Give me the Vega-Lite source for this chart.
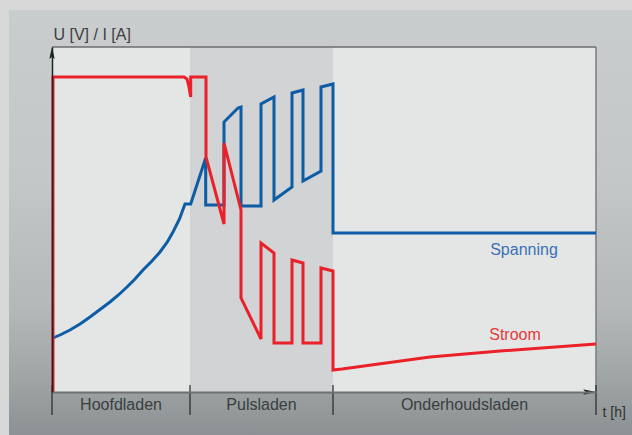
{
  "$schema": "https://vega.github.io/schema/vega-lite/v6.json",
  "width": 544,
  "height": 345,
  "autosize": {"type": "none"},
  "padding": {"left": 52, "top": 47, "right": 36, "bottom": 43},
  "background": "#d8d8d8",
  "config": {"view": {"stroke": null}, "font": "Liberation Sans"},
  "resolve": {"scale": {"color": "independent"}},
  "datasets": {
    "fasen": [
      {"fase": "Hoofdladen", "start": 0, "eind": 138},
      {"fase": "Pulsladen", "start": 138, "eind": 281},
      {"fase": "Onderhoudsladen", "start": 281, "eind": 544}
    ],
    "grenzen": [{"t": 0}, {"t": 138}, {"t": 281}, {"t": 544}],
    "curves": [
      {"serie": "Spanning", "i": 1, "t": 1, "v": 54},
      {"serie": "Spanning", "i": 2, "t": 9, "v": 57.5},
      {"serie": "Spanning", "i": 3, "t": 18, "v": 62},
      {"serie": "Spanning", "i": 4, "t": 28, "v": 68},
      {"serie": "Spanning", "i": 5, "t": 38, "v": 75},
      {"serie": "Spanning", "i": 6, "t": 48, "v": 82.5},
      {"serie": "Spanning", "i": 7, "t": 58, "v": 90},
      {"serie": "Spanning", "i": 8, "t": 67, "v": 97.5},
      {"serie": "Spanning", "i": 9, "t": 75, "v": 105},
      {"serie": "Spanning", "i": 10, "t": 83, "v": 113},
      {"serie": "Spanning", "i": 11, "t": 91, "v": 122},
      {"serie": "Spanning", "i": 12, "t": 100, "v": 131},
      {"serie": "Spanning", "i": 13, "t": 108, "v": 140},
      {"serie": "Spanning", "i": 14, "t": 115, "v": 149.5},
      {"serie": "Spanning", "i": 15, "t": 121, "v": 160},
      {"serie": "Spanning", "i": 16, "t": 127.5, "v": 173},
      {"serie": "Spanning", "i": 17, "t": 133, "v": 188},
      {"serie": "Spanning", "i": 18, "t": 138.7, "v": 188},
      {"serie": "Spanning", "i": 19, "t": 153.7, "v": 234},
      {"serie": "Spanning", "i": 20, "t": 153.7, "v": 187},
      {"serie": "Spanning", "i": 21, "t": 172, "v": 187},
      {"serie": "Spanning", "i": 22, "t": 172, "v": 270},
      {"serie": "Spanning", "i": 23, "t": 186, "v": 284},
      {"serie": "Spanning", "i": 24, "t": 189, "v": 285},
      {"serie": "Spanning", "i": 25, "t": 189, "v": 186},
      {"serie": "Spanning", "i": 26, "t": 209, "v": 186},
      {"serie": "Spanning", "i": 27, "t": 209, "v": 288},
      {"serie": "Spanning", "i": 28, "t": 222, "v": 295},
      {"serie": "Spanning", "i": 29, "t": 222, "v": 192},
      {"serie": "Spanning", "i": 30, "t": 240, "v": 205},
      {"serie": "Spanning", "i": 31, "t": 240, "v": 299},
      {"serie": "Spanning", "i": 32, "t": 251, "v": 302},
      {"serie": "Spanning", "i": 33, "t": 251, "v": 211},
      {"serie": "Spanning", "i": 34, "t": 269, "v": 221},
      {"serie": "Spanning", "i": 35, "t": 269, "v": 305},
      {"serie": "Spanning", "i": 36, "t": 281, "v": 308},
      {"serie": "Spanning", "i": 37, "t": 281, "v": 159},
      {"serie": "Spanning", "i": 38, "t": 544, "v": 159},
      {"serie": "Stroom", "i": 1, "t": 1, "v": 0},
      {"serie": "Stroom", "i": 2, "t": 1, "v": 315},
      {"serie": "Stroom", "i": 3, "t": 132, "v": 315},
      {"serie": "Stroom", "i": 4, "t": 135, "v": 313},
      {"serie": "Stroom", "i": 5, "t": 137, "v": 305},
      {"serie": "Stroom", "i": 6, "t": 138.7, "v": 295},
      {"serie": "Stroom", "i": 7, "t": 138.7, "v": 315},
      {"serie": "Stroom", "i": 8, "t": 154, "v": 315},
      {"serie": "Stroom", "i": 9, "t": 154, "v": 235},
      {"serie": "Stroom", "i": 10, "t": 172, "v": 168},
      {"serie": "Stroom", "i": 11, "t": 172, "v": 249},
      {"serie": "Stroom", "i": 12, "t": 189, "v": 182},
      {"serie": "Stroom", "i": 13, "t": 189, "v": 94},
      {"serie": "Stroom", "i": 14, "t": 209, "v": 53},
      {"serie": "Stroom", "i": 15, "t": 209, "v": 149},
      {"serie": "Stroom", "i": 16, "t": 222, "v": 139},
      {"serie": "Stroom", "i": 17, "t": 222, "v": 49},
      {"serie": "Stroom", "i": 18, "t": 240, "v": 49},
      {"serie": "Stroom", "i": 19, "t": 240, "v": 132},
      {"serie": "Stroom", "i": 20, "t": 251, "v": 129},
      {"serie": "Stroom", "i": 21, "t": 251, "v": 49},
      {"serie": "Stroom", "i": 22, "t": 269, "v": 49},
      {"serie": "Stroom", "i": 23, "t": 269, "v": 124},
      {"serie": "Stroom", "i": 24, "t": 281, "v": 121},
      {"serie": "Stroom", "i": 25, "t": 281, "v": 22},
      {"serie": "Stroom", "i": 26, "t": 290, "v": 23},
      {"serie": "Stroom", "i": 27, "t": 378, "v": 35},
      {"serie": "Stroom", "i": 28, "t": 448, "v": 41},
      {"serie": "Stroom", "i": 29, "t": 544, "v": 48}
    ],
    "labels": [
      {"serie": "Spanning", "t": 472, "v": 137},
      {"serie": "Stroom", "t": 463, "v": 52}
    ]
  },
  "layer": [
    {
      "data": {"values": [{"paneel": "achtergrond"}]},
      "mark": {
        "type": "rect",
        "clip": false,
        "fill": {
          "gradient": "linear",
          "x1": 0, "y1": 0, "x2": 0, "y2": 1,
          "stops": [
            {"offset": 0, "color": "#cacdce"},
            {"offset": 0.4, "color": "#c4c7c8"},
            {"offset": 0.7, "color": "#b4b8b9"},
            {"offset": 0.84, "color": "#a3a8a9"},
            {"offset": 1, "color": "#8c9293"}
          ]
        }
      },
      "encoding": {
        "x": {
          "datum": -43, "type": "quantitative",
          "scale": {"domain": [0, 544], "nice": false, "zero": false},
          "axis": {
            "title": "t [h]", "domain": true, "domainColor": "#6e7072", "domainWidth": 2,
            "ticks": false, "labels": false, "grid": false,
            "titleX": 550, "titleY": 24, "titleAlign": "left", "titleBaseline": "alphabetic",
            "titleFont": "Liberation Sans", "titleFontSize": 14, "titleFontWeight": "normal",
            "titleColor": "#2e3233", "zindex": 2
          }
        },
        "x2": {"datum": 580},
        "y": {
          "datum": -43, "type": "quantitative",
          "scale": {"domain": [0, 345], "nice": false, "zero": false},
          "axis": {
            "title": "U [V] / I [A]", "domain": true, "domainColor": "#1b2424", "domainWidth": 1.5,
            "ticks": false, "labels": false, "grid": false,
            "titleAngle": 0, "titleX": 1, "titleY": -8, "titleAlign": "left", "titleBaseline": "alphabetic",
            "titleFont": "Liberation Sans", "titleFontSize": 16, "titleFontWeight": "normal",
            "titleColor": "#3c4041", "zindex": 2
          }
        },
        "y2": {"datum": 382}
      }
    },
    {
      "data": {"name": "fasen"},
      "mark": {"type": "rect"},
      "encoding": {
        "x": {"field": "start", "type": "quantitative"},
        "x2": {"field": "eind"},
        "y": {"datum": 0, "type": "quantitative"},
        "y2": {"datum": 345},
        "color": {
          "field": "fase", "type": "nominal", "legend": null,
          "scale": {"domain": ["Hoofdladen", "Pulsladen", "Onderhoudsladen"], "range": ["#e4e6e5", "#d1d3d4", "#e4e6e5"]}
        }
      }
    },
    {
      "data": {"values": [{"rand": "boven"}]},
      "mark": {"type": "rule", "color": "#6b6d6e", "strokeWidth": 1.5},
      "encoding": {
        "x": {"datum": 0, "type": "quantitative"},
        "x2": {"datum": 544},
        "y": {"datum": 345, "type": "quantitative"}
      }
    },
    {
      "data": {"values": [{"rand": "rechts"}]},
      "mark": {"type": "rule", "color": "#7a7c7d", "strokeWidth": 1.5},
      "encoding": {
        "x": {"datum": 544, "type": "quantitative"},
        "y": {"datum": 0, "type": "quantitative"},
        "y2": {"datum": 345}
      }
    },
    {
      "data": {"name": "grenzen"},
      "mark": {"type": "rule", "color": "#23292a", "strokeWidth": 1.2, "clip": false},
      "encoding": {
        "x": {"field": "t", "type": "quantitative"},
        "y": {"datum": -23, "type": "quantitative"},
        "y2": {"datum": 7}
      }
    },
    {
      "data": {"name": "fasen"},
      "transform": [{"calculate": "(datum.start + datum.eind) / 2", "as": "midden"}],
      "mark": {"type": "text", "baseline": "alphabetic", "align": "center", "fontSize": 16, "color": "#3a3e3f", "font": "Liberation Sans"},
      "encoding": {
        "x": {"field": "midden", "type": "quantitative"},
        "y": {"datum": -18, "type": "quantitative"},
        "text": {"field": "fase"}
      }
    },
    {
      "data": {"name": "curves"},
      "mark": {"type": "line", "strokeWidth": 3, "strokeJoin": "miter", "strokeCap": "butt"},
      "encoding": {
        "x": {"field": "t", "type": "quantitative"},
        "y": {"field": "v", "type": "quantitative"},
        "order": {"field": "i"},
        "color": {
          "field": "serie", "type": "nominal", "legend": null,
          "scale": {"domain": ["Spanning", "Stroom"], "range": ["#0d5ca6", "#ea2129"]}
        }
      }
    },
    {
      "data": {"name": "labels"},
      "mark": {"type": "text", "align": "center", "baseline": "alphabetic", "fontSize": 16, "font": "Liberation Sans"},
      "encoding": {
        "x": {"field": "t", "type": "quantitative"},
        "y": {"field": "v", "type": "quantitative"},
        "text": {"field": "serie"},
        "color": {
          "field": "serie", "type": "nominal", "legend": null,
          "scale": {"domain": ["Spanning", "Stroom"], "range": ["#3a70b6", "#e8383d"]}
        }
      }
    },
    {
      "data": {"values": [{"pijl": "y"}]},
      "mark": {"type": "point", "filled": true, "opacity": 1, "size": 225, "color": "#1b2424", "clip": false, "shape": "M0,0L0.36,1.6L0,1.3L-0.36,1.6Z"},
      "encoding": {
        "x": {"datum": 0, "type": "quantitative"},
        "y": {"datum": 345, "type": "quantitative"}
      }
    },
    {
      "data": {"values": [{"pijl": "x"}]},
      "mark": {"type": "point", "filled": true, "opacity": 1, "size": 225, "color": "#1b2424", "clip": false, "shape": "M0,0L-1.7,-0.36L-1.4,0L-1.7,0.36Z"},
      "encoding": {
        "x": {"datum": 544, "type": "quantitative"},
        "y": {"datum": 0, "type": "quantitative"}
      }
    }
  ]
}
